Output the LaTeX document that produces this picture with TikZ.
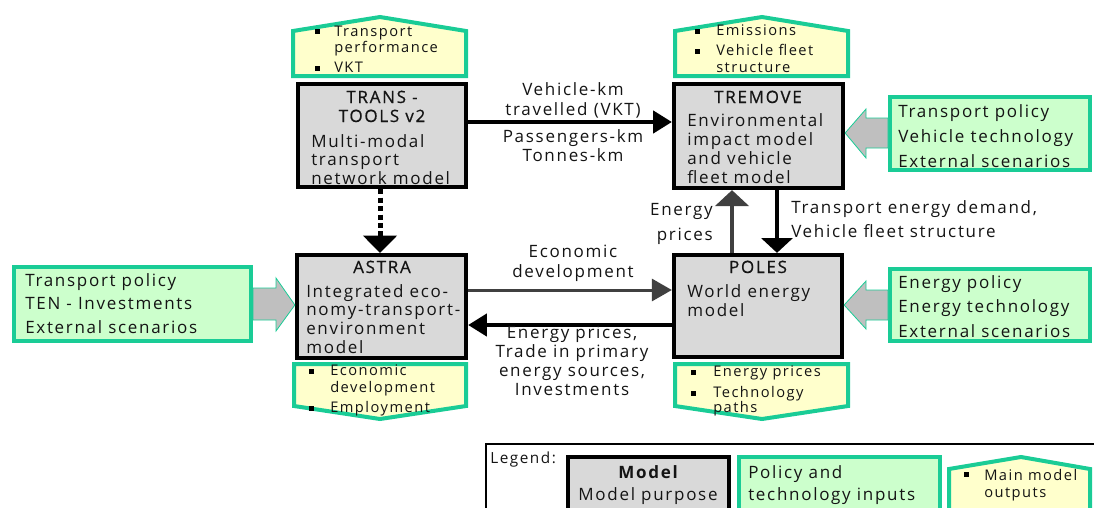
\documentclass[tikz,border=0pt]{standalone}
\usepackage{fontspec}
\setmainfont{Open Sans}[LetterSpace=10]
\newfontfamily\semib{Open Sans}[LetterSpace=10, FakeBold=0.6]
\usetikzlibrary{arrows.meta}
\definecolor{grn}{RGB}{26,204,150}
\definecolor{ingreen}{RGB}{204,255,204}
\definecolor{outyellow}{RGB}{255,255,204}
\definecolor{mgray}{RGB}{217,217,217}
\definecolor{agray}{RGB}{191,191,191}
\definecolor{dgray}{RGB}{64,64,64}
\definecolor{ink}{RGB}{20,20,20}
\begin{document}
\begin{tikzpicture}[x=0.75pt,y=-0.75pt,
  model/.style={draw=black, line width=3.2pt, fill=mgray, inner sep=0pt},
  inbox/.style={draw=grn, line width=3pt, fill=ingreen, inner sep=0pt},
  outshape/.style={draw=grn, line width=3pt, fill=outyellow, line join=miter},
  blockarrow/.style={fill=agray, draw=grn, line width=0.6pt, line join=miter},
  txt/.style={inner sep=0pt, text=ink, font=\fontsize{12.75}{15}\selectfont, anchor=base west},
  ctxt/.style={txt, anchor=base},
  rtxt/.style={txt, anchor=base east},
  ttl/.style={ctxt, font=\fontsize{12.75}{15}\semib},
  small/.style={inner sep=0pt, text=ink, font=\fontsize{11}{13}\selectfont, anchor=base west},
  bul/.style={fill=black},
  blackarrow/.style={draw=black, line width=3pt, -{Triangle[length=14pt,width=16.5pt]}},
  grayarrow/.style={draw=dgray, line width=2.25pt, -{Triangle[length=15pt,width=16.5pt]}},
]
\useasboundingbox (0,0) rectangle (1094,507);

% ---------- output shapes ----------
\draw[outshape] (293,76)--(293,31)--(380,17)--(466,31)--(466,76)--cycle;
\draw[outshape] (675,76)--(675,31)--(762,17)--(848,31)--(848,76)--cycle;
\draw[outshape] (294,364)--(294,406)--(380,419)--(466,406)--(466,364)--cycle;
\draw[outshape] (675,364)--(675,406)--(762,419)--(848,406)--(848,364)--cycle;

% ---------- input boxes ----------
\node[inbox, minimum width=150pt, minimum height=54.75pt] (intr) at (990,133.5) {};
\node[inbox, minimum width=150pt, minimum height=54pt] (inpo) at (990,305) {};
\node[inbox, minimum width=177.75pt, minimum height=55.5pt] (inas) at (132.5,304) {};

% ---------- model boxes ----------
\node[model, minimum width=126pt, minimum height=77.25pt] (tt) at (382,135.5) {};
\node[model, minimum width=126.75pt, minimum height=78pt] (tr) at (758.5,136) {};
\node[model, minimum width=126.75pt, minimum height=77.25pt] (as) at (381.5,306.5) {};
\node[model, minimum width=126pt, minimum height=76.5pt] (po) at (758,306) {};

% ---------- block arrows (inputs) ----------
\draw[blockarrow] (intr.west |- 0,118)--(866,118)--(866,109)--(tr.east |- 0,133)--(866,158)--(866,148)--(intr.west |- 0,148)--cycle;
\draw[blockarrow] (inpo.west |- 0,290)--(866,290)--(866,281)--(po.east |- 0,305)--(866,329)--(866,320)--(inpo.west |- 0,320)--cycle;
\draw[blockarrow] (inas.east |- 0,288)--(276,288)--(276,278)--(as.west |- 0,305)--(276,331)--(276,320)--(inas.east |- 0,320)--cycle;

% ---------- connectors ----------
\draw[blackarrow] (tt.east |- 0,122) -- (tr.west |- 0,122);
\draw[grayarrow] (as.east |- 0,290) -- (po.west |- 0,290);
\draw[blackarrow] (po.west |- 0,325) -- (as.east |- 0,325);
\draw[draw=black, line width=3.75pt, dash pattern=on 3.75pt off 2.6pt, -{Triangle[length=13pt,width=25pt]}] (tt.south -| 380,0) -- (as.north -| 380,0);
\draw[draw=dgray, line width=3.2pt, -{Triangle[length=12pt,width=25pt]}] (po.north -| 732,0) -- (tr.south -| 732,0);
\draw[draw=black, line width=3pt, -{Triangle[length=11pt,width=23pt]}] (tr.south -| 777,0) -- (po.north -| 777,0);

% ---------- model texts ----------
\foreach \s [count=\i from 0] in {{TRANS -},{TOOLS v2}}
  \node[ttl, name=ttt\i] at (382,103+19*\i) {\s};
\foreach \s [count=\i from 0] in {Multi-modal,transport,network model}
  \node[txt, name=ttb\i] at (311,147+18.5*\i) {\s};
\node[ttl] (trt) at (758,103) {TREMOVE};
\foreach \s [count=\i from 0] in {Environmental,impact model,and vehicle,fleet model}
  \node[txt, name=trb\i] at (687,126+19*\i) {\s};
\node[ttl] (ast) at (382,273) {ASTRA};
\foreach \s [count=\i from 0] in {Integrated eco-,nomy-transport-,environment,model}
  \node[txt, name=asb\i] at (306,297+18.8*\i) {\s};
\node[ttl] (pot) at (758,273) {POLES};
\foreach \s [count=\i from 0] in {World energy,model}
  \node[txt, name=pob\i] at (687,297+19*\i) {\s};

% ---------- input texts ----------
\foreach \s [count=\i from 0] in {Transport policy,Vehicle technology,External scenarios}
  \node[txt, name=intrt\i] at (898,117+25*\i) {\s};
\foreach \s [count=\i from 0] in {Energy policy,Energy technology,External scenarios}
  \node[txt, name=inpot\i] at (898,288+24.5*\i) {\s};
\foreach \s [count=\i from 0] in {Transport policy,{TEN - Investments},External scenarios}
  \node[txt, name=inast\i] at (25,286+23.5*\i) {\s};

% ---------- connector labels ----------
\foreach \s [count=\i from 0] in {Vehicle-km,{travelled (VKT)}}
  \node[ctxt, name=la\i] at (573,95+20*\i) {\s};
\foreach \s [count=\i from 0] in {Passengers-km,Tonnes-km}
  \node[ctxt, name=lb\i] at (573,142+19*\i) {\s};
\foreach \s [count=\i from 0] in {Economic,development}
  \node[ctxt, name=lc\i] at (573,257+20*\i) {\s};
\foreach \s [count=\i from 0] in {{Energy prices,},Trade in primary,{energy sources,},Investments}
  \node[ctxt, name=ld\i] at (572,338+19.3*\i) {\s};
\node[rtxt] (le0) at (713,215) {Energy};
\node[rtxt] (le1) at (713,240) {prices};
\node[txt] (lf0) at (791,213) {Transport energy demand,};
\node[txt] (lf1) at (791,237) {Vehicle fleet structure};

% ---------- output texts ----------
\fill[bul] (315,29) rectangle (320,34);
\fill[bul] (315,66) rectangle (320,71);
\node[small] (o1a) at (334,36) {Transport};
\node[small] (o1b) at (334,52) {performance};
\node[small] (o1c) at (334,72) {VKT};
\fill[bul] (695,29) rectangle (700,34);
\fill[bul] (695,49) rectangle (700,54);
\node[small] (o2a) at (716,35) {Emissions};
\node[small] (o2b) at (716,55) {Vehicle fleet};
\node[small] (o2c) at (716,72) {structure};
\fill[bul] (309,369) rectangle (314,374);
\fill[bul] (309,406) rectangle (314,411);
\node[small] (o3a) at (330,375) {Economic};
\node[small] (o3b) at (330,392) {development};
\node[small] (o3c) at (330,412) {Employment};
\fill[bul] (691,370) rectangle (696,375);
\fill[bul] (691,391) rectangle (696,396);
\node[small] (o4a) at (713,376) {Energy prices};
\node[small] (o4b) at (713,397) {Technology};
\node[small] (o4c) at (713,412) {paths};

% ---------- legend ----------
\draw[line width=1.5pt] (486,444) rectangle (1120,530);
\node[small, font=\fontsize{11.5}{13}\selectfont] (lgt) at (490,463) {Legend:};
\node[model, minimum width=120.75pt, minimum height=43.5pt] (lgm) at (648.5,486) {};
\node[inbox, minimum width=150.75pt, minimum height=43.5pt] (lgp) at (839.5,486) {};
\draw[outshape] (949,520)--(949,469)--(1021,457)--(1090,469)--(1090,520);
\node[ctxt, font=\fontsize{12.75}{15}\bfseries] (lgm1) at (648,478) {Model};
\node[ctxt] (lgm2) at (648,500) {Model purpose};
\node[txt] (lgp1) at (748,478) {Policy and};
\node[txt] (lgp2) at (748,500) {technology inputs};
\fill[bul] (964,472) rectangle (969,477);
\node[small] (lgo1) at (984,480) {Main model};
\node[small] (lgo2) at (984,497) {outputs};
\end{tikzpicture}
\end{document}
